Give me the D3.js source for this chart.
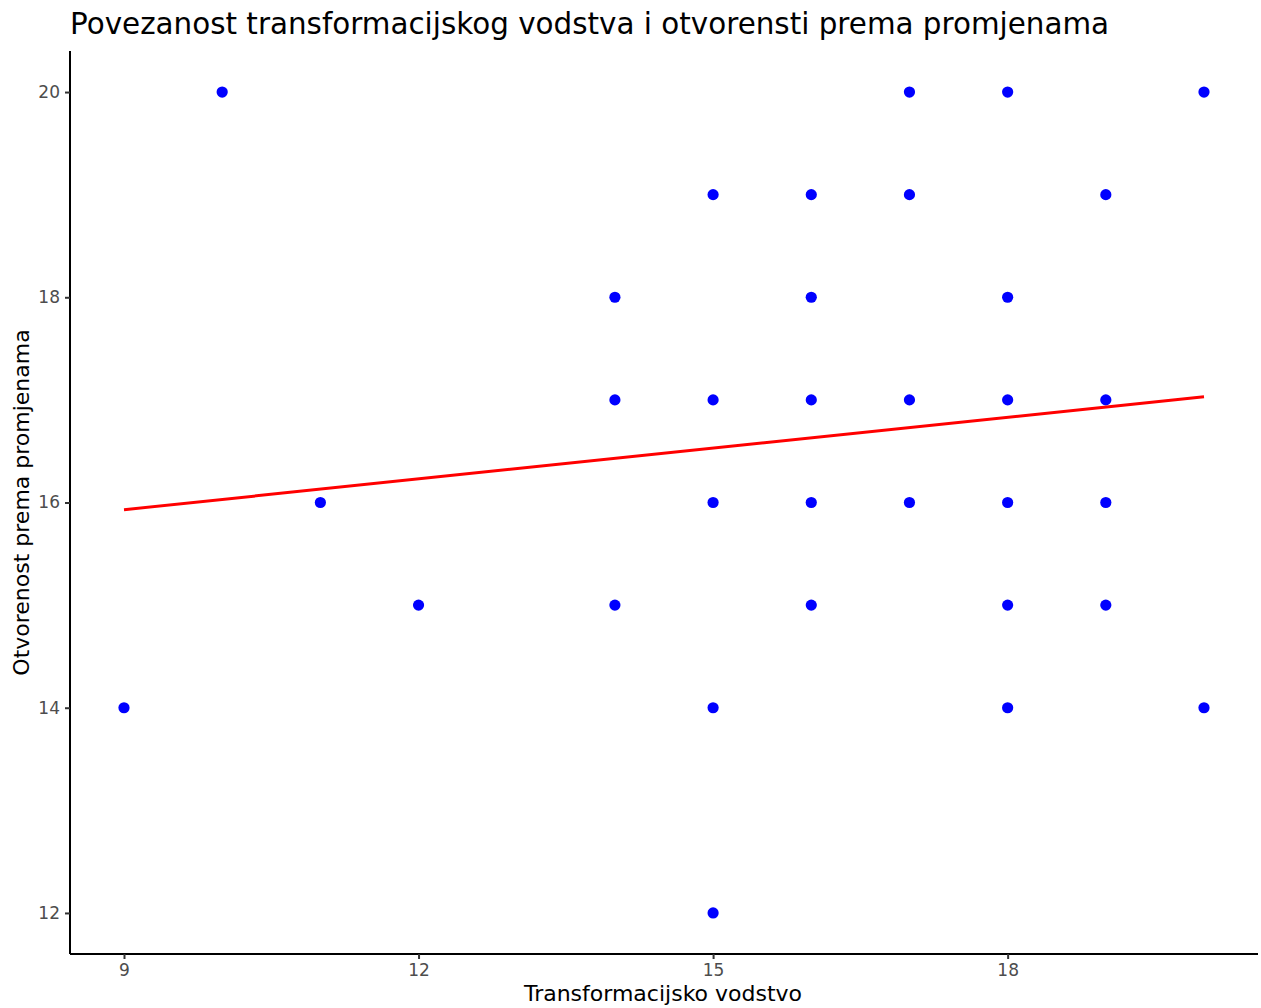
<!DOCTYPE html>
<html>
<head>
<meta charset="utf-8">
<script src="https://cdn.jsdelivr.net/npm/d3@7"></script>
<style>
  body { margin: 0; background: #fff; }
  text { font-family: "DejaVu Sans", sans-serif; }
</style>
</head>
<body>
<svg id="chart" width="1261" height="1008"></svg>
<script>
// data
const vodstvo = [9, 10, 11, 12, 14, 14, 14, 15, 15, 15, 15, 15, 16, 16, 16, 16, 16, 17, 17, 17, 17, 18, 18, 18, 18, 18, 18, 19, 19, 19, 19, 20, 20]
const otvorenost = [14, 20, 16, 15, 18, 17, 15, 19, 17, 16, 14, 12, 19, 18, 17, 16, 15, 20, 19, 17, 16, 20, 18, 17, 16, 15, 14, 19, 17, 16, 15, 20, 14]
const fitX = [9, 20]
const fitY = [15.93, 17.03]
const xTicks = [9, 12, 15, 18]
const yTicks = [12, 14, 16, 18, 20]

const svg = d3.select("#chart")
const pLeft = 70, pRight = 1258, pTop = 51, pBottom = 954

const x = d3.scaleLinear().domain([8.45, 20.55]).range([pLeft, pRight])
const y = d3.scaleLinear().domain([11.6, 20.4]).range([pBottom, pTop])

// axes
const xAxis = svg.append("g")
  .attr("transform", `translate(0,${pBottom})`)
  .call(d3.axisBottom(x).tickValues(xTicks).tickSize(5).tickPadding(5))
const yAxis = svg.append("g")
  .attr("transform", `translate(${pLeft},0)`)
  .call(d3.axisLeft(y).tickValues(yTicks).tickSize(5).tickPadding(5))

;[xAxis, yAxis].forEach(a => {
  a.attr("font-size", 17).attr("font-family", "DejaVu Sans")
  a.select(".domain").attr("stroke", "#000").attr("stroke-width", 2)
  a.selectAll(".tick line").attr("stroke", "#333").attr("stroke-width", 2)
  a.selectAll(".tick text").attr("fill", "#4d4d4d")
})
xAxis.select(".domain").attr("d", `M${pLeft},0H${pRight}`)
yAxis.select(".domain").attr("d", `M0,${pTop}V${pBottom}`)

// points
svg.append("g").selectAll("circle")
  .data(vodstvo.map((v, i) => [v, otvorenost[i]]))
  .join("circle")
    .attr("cx", d => x(d[0]))
    .attr("cy", d => y(d[1]))
    .attr("r", 5.6)
    .attr("fill", "#0000ff")

// fitted line
svg.append("path")
  .attr("d", d3.line()(fitX.map((v, i) => [x(v), y(fitY[i])])))
  .attr("stroke", "#ff0000")
  .attr("stroke-width", 3)
  .attr("fill", "none")

// titles
svg.append("text")
  .attr("x", 70).attr("y", 34)
  .style("font-size", "29.4px")
  .text("Povezanost transformacijskog vodstva i otvorensti prema promjenama")

svg.append("text")
  .attr("x", (pLeft + pRight) / 2 - 1).attr("y", 1001)
  .attr("text-anchor", "middle")
  .style("font-size", "22px")
  .text("Transformacijsko vodstvo")

svg.append("text")
  .attr("transform", `translate(29,${(pTop + pBottom) / 2}) rotate(-90)`)
  .attr("text-anchor", "middle")
  .style("font-size", "22px")
  .text("Otvorenost prema promjenama")
</script>
</body>
</html>
